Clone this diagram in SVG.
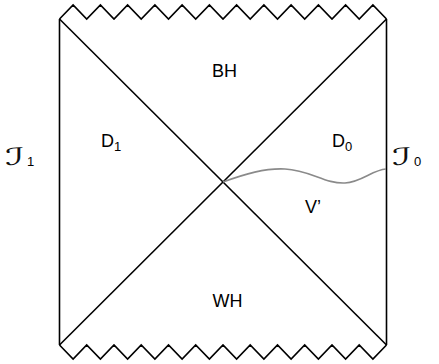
<svg xmlns="http://www.w3.org/2000/svg" width="439" height="364" viewBox="0 0 439 364">
  <style>
    .edge { fill: none; stroke: #000; stroke-width: 1.6; stroke-linejoin: miter; }
    .lbl { font-family: "Liberation Sans", Arial, sans-serif; font-size: 18px; fill: #000; }
    .sub { font-family: "Liberation Sans", Arial, sans-serif; font-size: 13px; fill: #000; }
    .scri { font-family: "DejaVu Sans", "Noto Sans", sans-serif; font-size: 24px; fill: #111; }
  </style>
  <rect width="439" height="364" fill="#fff"/>

  <g id="connectors">
    <!-- boundaries of the diagram -->
    <line class="edge" x1="59.5" y1="19" x2="59.5" y2="345"/>
    <line class="edge" x1="386.5" y1="19" x2="386.5" y2="345"/>
    <!-- horizons -->
    <line class="edge" x1="59.5" y1="19" x2="386.5" y2="345"/>
    <line class="edge" x1="386.5" y1="19" x2="59.5" y2="345"/>
    <!-- singularities -->
    <polyline class="edge" points="59.5,19 73.1,5 86.7,19 100.4,5 114,19 127.6,5 141.2,19 154.9,5 168.5,19 182.1,5 195.7,19 209.4,5 223,19 236.6,5 250.2,19 263.9,5 277.5,19 291.1,5 304.7,19 318.4,5 332,19 345.6,5 359.2,19 372.9,5 386.5,19"/>
    <polyline class="edge" points="59.5,345 73.1,359 86.7,345 100.4,359 114,345 127.6,359 141.2,345 154.9,359 168.5,345 182.1,359 195.7,345 209.4,359 223,345 236.6,359 250.2,345 263.9,359 277.5,345 291.1,359 304.7,345 318.4,359 332,345 345.6,359 359.2,345 372.9,359 386.5,345"/>
    <!-- wavy slice -->
    <path d="M223,182 C245,174 265,168 285,169 C310,170 325,184 345,183 C362,182 372,170 386,169" fill="none" stroke="#8a8a8a" stroke-width="1.6"/>
  </g>

  <g id="bh"><text class="lbl" x="224.5" y="77" text-anchor="middle">BH</text></g>
  <g id="wh"><text class="lbl" x="227.5" y="307" text-anchor="middle">WH</text></g>
  <g id="d1"><text class="lbl" x="101" y="147">D</text><text class="sub" x="114" y="151">1</text></g>
  <g id="d0"><text class="lbl" x="332" y="147">D</text><text class="sub" x="345" y="151">0</text></g>
  <g id="vprime"><text class="lbl" x="305" y="213">V’</text></g>
  <g id="scri1"><text class="scri" transform="translate(5,165) scale(1.7,1)">ℐ</text><text class="sub" x="27" y="166">1</text></g>
  <g id="scri0"><text class="scri" transform="translate(392,165) scale(1.7,1)">ℐ</text><text class="sub" x="414" y="166">0</text></g>
</svg>
